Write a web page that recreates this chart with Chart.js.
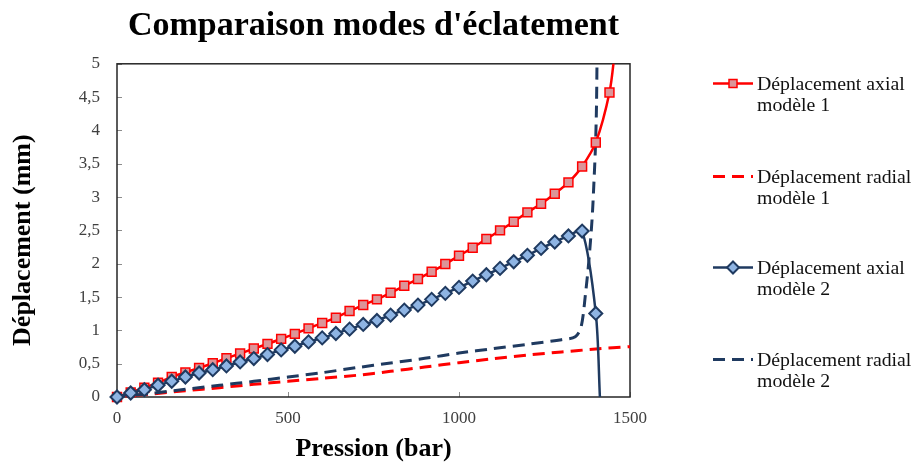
<!DOCTYPE html>
<html>
<head>
<meta charset="utf-8">
<script src="https://cdn.jsdelivr.net/npm/chart.js@4.4.1/dist/chart.umd.min.js"></script>
<style>
body{margin:0;background:#fff;}
#wrap{position:relative;width:918px;height:467px;}
#legend{position:absolute;left:713px;top:0;font-family:'Liberation Serif','Times New Roman',serif;font-size:19.8px;color:#111;}
.item{position:absolute;left:0;width:205px;height:42px;line-height:21px;}
.item svg{position:absolute;left:0;top:0;}
.item span{position:absolute;left:44px;top:0;white-space:nowrap;}
</style>
</head>
<body>
<div id="wrap">
  <canvas id="graph" width="918" height="467"></canvas>
  <div id="legend"></div>
</div>
<script>
// pression (bar) / déplacement (mm)
var p_axial1 = [0,40,80,120,160,200,240,280,320,360,400,440,480,520,560,600,640,680,720,760,800,840,880,920,960,1000,1040,1080,1120,1160,1200,1240,1280,1320,1360,1400,1440,1456];
var d_axial1 = [0,0.07,0.14,0.216,0.30,0.37,0.436,0.507,0.582,0.652,0.727,0.797,0.872,0.947,1.03,1.11,1.19,1.29,1.38,1.465,1.564,1.669,1.77,1.88,1.995,2.12,2.24,2.37,2.50,2.63,2.77,2.90,3.05,3.22,3.46,3.82,4.57,5.2];

var p_radial1 = [0,100,200,300,400,500,600,700,800,900,1000,1100,1200,1300,1400,1500];
var d_radial1 = [0,0.045,0.095,0.14,0.19,0.235,0.28,0.325,0.385,0.45,0.515,0.575,0.63,0.675,0.72,0.755];

var p_axial2 = [0,40,80,120,160,200,240,280,320,360,400,440,480,520,560,600,640,680,720,760,800,840,880,920,960,1000,1040,1080,1120,1160,1200,1240,1280,1320,1360,1400,1412];
var d_axial2 = [0,0.06,0.11,0.176,0.236,0.30,0.36,0.41,0.466,0.526,0.577,0.637,0.707,0.762,0.827,0.887,0.953,1.018,1.089,1.148,1.229,1.304,1.379,1.465,1.555,1.645,1.74,1.835,1.93,2.03,2.126,2.23,2.326,2.417,2.49,1.254,0];

var p_radial2 = [0,100,200,300,400,500,600,700,800,900,1000,1100,1200,1300,1340,1357,1370,1380,1389,1394,1399,1402,1404];
var d_radial2 = [0,0.055,0.115,0.175,0.235,0.30,0.365,0.44,0.51,0.58,0.66,0.725,0.79,0.86,0.905,1.05,1.555,2.06,2.66,3.16,3.76,4.36,5.3];

var series_names = ['Déplacement axial\nmodèle 1','Déplacement radial\nmodèle 1','Déplacement axial\nmodèle 2','Déplacement radial\nmodèle 2'];

var RED = '#ff0000';
var NAVY = '#1f3a60';
var SERIF = "'Liberation Serif', 'Times New Roman', serif";

function pts(xs, ys){
    var out = [];
    for(var i=0; i<xs.length; i++){
        out.push({x: xs[i], y: ys[i]});
    }
    return out;
}

function hideLast(size){
    return function(ctx){
        return ctx.dataIndex === ctx.dataset.data.length-1 ? 0 : size;
    };
}

// cadre du graphique + petites graduations vers l'intérieur
var framePlugin = {
    id: 'frame',
    beforeDatasetsDraw: function(chart){
        var a = chart.chartArea, ctx = chart.ctx;
        var xs = chart.scales.x, ys = chart.scales.y;
        ctx.save();
        ctx.strokeStyle = '#8c8c8c';
        ctx.lineWidth = 1;
        ys.ticks.forEach(function(t){
            var py = Math.round(ys.getPixelForValue(t.value)) + 0.5;
            ctx.beginPath(); ctx.moveTo(a.left, py); ctx.lineTo(a.left+5, py); ctx.stroke();
        });
        xs.ticks.forEach(function(t){
            var px = Math.round(xs.getPixelForValue(t.value)) + 0.5;
            ctx.beginPath(); ctx.moveTo(px, a.bottom); ctx.lineTo(px, a.bottom-5); ctx.stroke();
        });
        ctx.strokeStyle = '#262626';
        ctx.lineWidth = 1.5;
        ctx.strokeRect(a.left, a.top, a.right-a.left, a.bottom-a.top);
        ctx.restore();
    }
};

var chart = new Chart(document.getElementById('graph').getContext('2d'), {
    type: 'line',
    data: {
        datasets: [{
            label: series_names[1],
            data: pts(p_radial1, d_radial1),
            borderColor: RED,
            borderWidth: 3,
            borderDash: [12, 7],
            pointRadius: 0,
            tension: 0.3,
            order: 4
        },{
            label: series_names[3],
            data: pts(p_radial2, d_radial2),
            borderColor: NAVY,
            borderWidth: 3,
            borderDash: [12, 7],
            pointRadius: 0,
            tension: 0.3,
            order: 3
        },{
            label: series_names[0],
            data: pts(p_axial1, d_axial1),
            borderColor: RED,
            borderWidth: 2.5,
            pointStyle: 'rect',
            pointRadius: hideLast(6.3),
            pointBackgroundColor: '#dc9599',
            pointBorderColor: RED,
            pointBorderWidth: 1.5,
            tension: 0.3,
            clip: {left: 8, bottom: 8, top: 0, right: 0},
            order: 2
        },{
            label: series_names[2],
            data: pts(p_axial2, d_axial2),
            borderColor: NAVY,
            borderWidth: 2.5,
            pointStyle: 'rectRot',
            pointRadius: hideLast(6.5),
            pointBackgroundColor: '#8eb4e3',
            pointBorderColor: NAVY,
            pointBorderWidth: 2,
            tension: 0.3,
            clip: {left: 8, bottom: 8, top: 0, right: 0},
            order: 1
        }]
    },
    options: {
        responsive: false,
        animation: false,
        layout: {padding: {left: 0, right: 288, top: 0, bottom: 0}},
        scales: {
            x: {
                type: 'linear',
                min: 0, max: 1500,
                afterFit: function(s){ s.height = 70; },
                grid: {display: false, drawTicks: false},
                border: {display: false},
                ticks: {
                    stepSize: 500,
                    padding: 11,
                    color: '#404040',
                    font: {family: SERIF, size: 17},
                    callback: function(v){ return String(v); }
                },
                title: {
                    display: true,
                    text: 'Pression (bar)',
                    color: '#000',
                    padding: {top: 0, bottom: 2},
                    font: {family: SERIF, size: 26, weight: 'bold'}
                }
            },
            y: {
                min: 0, max: 5,
                afterFit: function(s){ s.width = 117; },
                grid: {display: false, drawTicks: false},
                border: {display: false},
                ticks: {
                    stepSize: 0.5,
                    padding: 17,
                    color: '#404040',
                    font: {family: SERIF, size: 17},
                    callback: function(v){ return String(v).replace('.', ','); }
                },
                title: {
                    display: true,
                    text: 'Déplacement (mm)\u00a0\u00a0\u00a0',
                    color: '#000',
                    padding: {top: 8, bottom: 0},
                    font: {family: SERIF, size: 26, weight: 'bold'}
                }
            }
        },
        plugins: {
            legend: {display: false},
            tooltip: {enabled: false},
            title: {
                display: true,
                fullSize: false,
                text: "Comparaison modes d'éclatement",
                color: '#000',
                padding: {top: 6, bottom: 17},
                font: {family: SERIF, size: 34, weight: 'bold'}
            }
        }
    },
    plugins: [framePlugin]
});

// légende à droite (texte sur deux lignes)
var legendTops = [73, 166, 257, 349];
var legendSym = [
    '<line x1="0" y1="10.5" x2="40" y2="10.5" stroke="'+RED+'" stroke-width="2.5"/><rect x="16" y="6.5" width="8" height="8" fill="#dc9599" stroke="'+RED+'" stroke-width="1.5"/>',
    '<line x1="0" y1="10.5" x2="40" y2="10.5" stroke="'+RED+'" stroke-width="3" stroke-dasharray="12 7"/>',
    '<line x1="0" y1="10.5" x2="40" y2="10.5" stroke="'+NAVY+'" stroke-width="2.5"/><polygon points="20,4.5 26,10.5 20,16.5 14,10.5" fill="#8eb4e3" stroke="'+NAVY+'" stroke-width="2"/>',
    '<line x1="0" y1="10.5" x2="40" y2="10.5" stroke="'+NAVY+'" stroke-width="3" stroke-dasharray="12 7"/>'
];
var html = '';
for(var i=0; i<series_names.length; i++){
    html += '<div class="item" style="top:'+legendTops[i]+'px"><svg width="40" height="21">'+legendSym[i]+'</svg><span>'+series_names[i].replace('\n','<br>')+'</span></div>';
}
document.getElementById('legend').innerHTML = html;
</script>
</body>
</html>
